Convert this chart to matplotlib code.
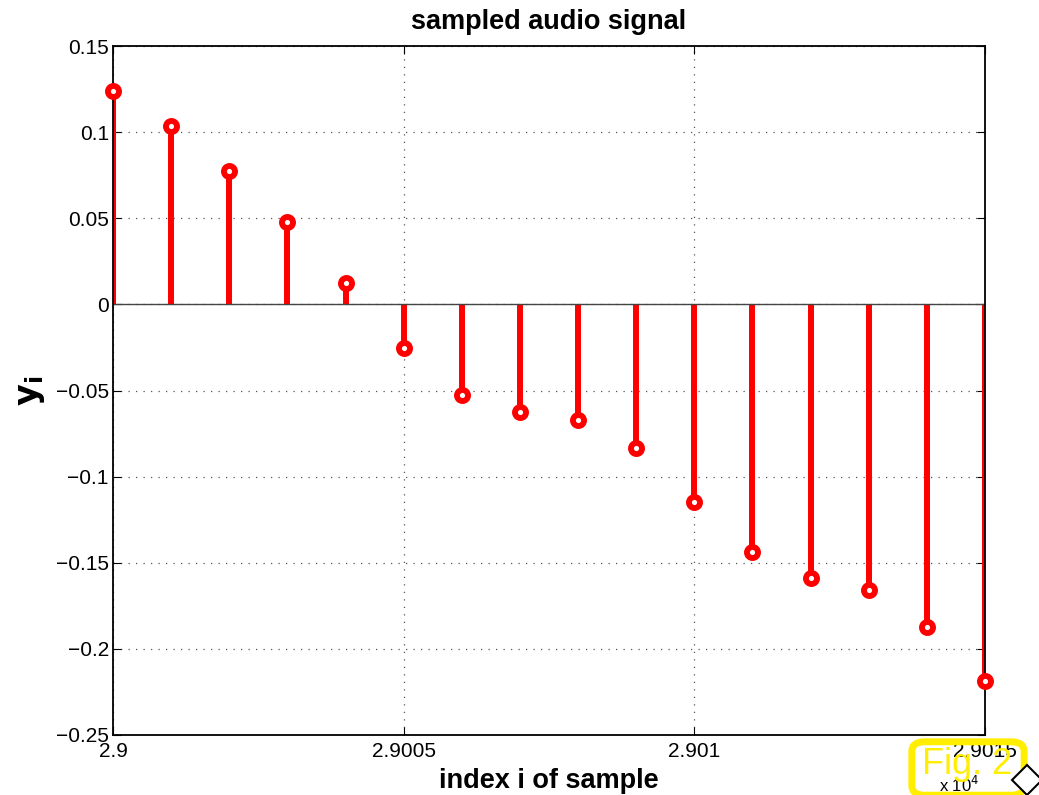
import numpy as np
import matplotlib.pyplot as plt
from matplotlib.patches import FancyBboxPatch, Polygon

# sample indices and values of the audio excerpt
idx = np.arange(29000, 29016)
y = [0.1236, 0.1038, 0.0777, 0.0476, 0.0122, -0.0255, -0.0528, -0.0626,
     -0.0673, -0.0835, -0.1148, -0.1439, -0.1589, -0.1659, -0.1874, -0.2187]
xticks = [29000, 29005, 29010, 29015]
xtick_labels = ['2.9', '2.9005', '2.901', '2.9015']
yticks = [-0.25, -0.2, -0.15, -0.1, -0.05, 0, 0.05, 0.1, 0.15]
ytick_labels = ['\u22120.25', '\u22120.2', '\u22120.15', '\u22120.1', '\u22120.05', '0', '0.05', '0.1', '0.15']

plt.rcParams['font.family'] = ['Liberation Sans', 'DejaVu Sans']

fig = plt.figure(figsize=(10.39, 7.95), dpi=100)
ax = fig.add_axes([113/1039, 1 - 735/795, (985-113)/1039, (735-46)/795])

ml, sl, bl = ax.stem(idx, y, basefmt='k-')
plt.setp(sl, color='red', linewidth=4.3)
plt.setp(ml, color='red', marker='o', markersize=8, markeredgewidth=4.2,
         markerfacecolor='white', markeredgecolor='red', clip_on=False, zorder=4)
plt.setp(bl, color='#444444', linewidth=1.0)

ax.set_xlim(29000, 29015)
ax.set_ylim(-0.25, 0.15)
ax.set_xticks(xticks)
ax.set_xticklabels(xtick_labels)
ax.set_yticks(yticks)
ax.set_yticklabels(ytick_labels)
ax.tick_params(direction='in', length=6, labelsize=15, top=True, right=True)
ax.tick_params(axis='x', pad=5)
ax.tick_params(axis='y', pad=3)
ax.grid(True, color='#555555', linestyle=(0, (1, 5)), linewidth=0.9)
for s in ax.spines.values():
    s.set_linewidth(1.3)

ax.set_title('sampled audio signal', fontsize=19.5, fontweight='bold', pad=12)
ax.set_xlabel('index i of sample', fontsize=19.5, fontweight='bold', labelpad=5)
ax.set_ylabel('$\\mathbf{y_i}$', fontsize=24, labelpad=6)

# exponent for the x tick labels
fig.text(959/1039, 1 - 785/795, 'x 10$^4$', fontsize=12, ha='center', va='center')

# figure tag in the corner
tag = FancyBboxPatch((916/1039, 1 - 792/795), 104/1039, 47/795,
                     boxstyle='round,pad=0.004,rounding_size=0.012',
                     transform=fig.transFigure, facecolor='none',
                     edgecolor='#ffee00', linewidth=5, zorder=5)
fig.patches.append(tag)
fig.text(967/1039, 1 - 764/795, 'Fig. 2', fontsize=26, color='#ffee00',
         ha='center', va='center', zorder=6)
diamond = Polygon([(1012/1039, 1 - 780/795), (1027/1039, 1 - 765/795),
                   (1042/1039, 1 - 780/795), (1027/1039, 1 - 795/795)],
                  closed=True, transform=fig.transFigure, facecolor='white',
                  edgecolor='black', linewidth=1.5, zorder=7)
fig.patches.append(diamond)

plt.savefig('out.png', dpi=100)
